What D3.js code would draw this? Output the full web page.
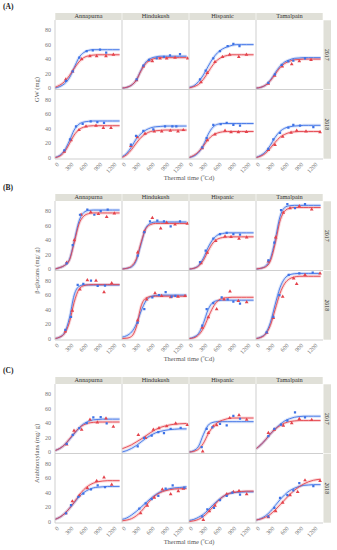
<!DOCTYPE html>
<html>
<head>
<meta charset="utf-8">
<script src="https://cdn.jsdelivr.net/npm/d3@7"></script>
<style>
body{margin:0;background:#fff}
svg{display:block}
</style>
</head>
<body>
<div id="chart"></div>
<script>
var W = 337, H = 550;
var varieties = ["Annapurna", "Hindukush", "Hispanic", "Tamalpain"];
var years = ["2017", "2018"];
var xTicks = [0, 300, 600, 900, 1200];
var yTicks = [0, 20, 40, 60, 80];
var fitX = [0, 100, 200, 300, 400, 500, 600, 700, 800, 900, 1000, 1100, 1200, 1350];

// ---- (A) GW (mg) ----  s1 = blue series, s2 = red series, one row per variety
var gw17Fit1 = [
  [0,2,6,14,28,42,49,52,53,53,53,53,53,53],
  [0,1,4,11,25,36,41,43,44,44,44,44,44,44],
  [1,3,9,18,30,41,49,54,57,59,60,60,60,60],
  [0,1,4,11,21,30,36,39,41,41.5,42,42,42,42]];
var gw17Fit2 = [
  [1,4,9,17,27,36,42,44.5,45.5,46,46,46,46,46],
  [0,1,4,11,24,34,39,41,42,42,42,42,42,42],
  [0,2,5,12,22,32,39,43,45,46,46,46,46,46],
  [0,1,4,10,19,28,34,37,39,39.5,40,40,40,40]];
var gw17Pts1 = [
  [[230,10],[370,23],[508,42],[662,51],[790,52],[940,53],[1070,49]],
  [[306,12],[446,31],[564,39],[725,41],[877,43],[1003,45],[1212,47]],
  [[230,12],[348,24],[508,41],[648,51],[808,58],[927,61],[1055,58]],
  [[258,7],[397,19],[537,32],[675,37],[780,38],[1024,41]]];
var gw17Pts2 = [
  [[225,12],[370,23],[557,40],[730,44],[870,44],[1065,44],[1220,46]],
  [[306,11],[446,30],[564,38],[634,37],[795,41],[933,41],[1108,42],[1372,41]],
  [[251,8],[383,21],[543,36],[700,43],[850,46],[1040,43],[1200,46]],
  [[258,6],[390,17],[550,30],[746,33],[905,37],[1150,39]]];
var gw18Fit1 = [
  [0,3,10,23,38,46,49,50,50.5,50.5,50.5,50.5,50.5,50.5],
  [1,6,15,26,33,38,41,42.5,43,43.5,43.5,43.5,43.5,43.5],
  [0,2,7,17,32,42,46,47,47,47,47,47,47,47],
  [0,3,8,17,28,36,40.5,42.5,43.5,44,44.5,44.5,44.5,44.5]];
var gw18Fit2 = [
  [0,2,8,19,31,38.5,42,43.5,44,44,44,44,44,44],
  [0,4,11,20,28,33,36,37,37.5,38,38,38,38,38],
  [0,3,8,16,25,31,34,35.5,36,36,36,36,36,36],
  [0,2,6,13,21,28,32,34.5,35.5,36,36,36,36,36]];
var gw18Pts1 = [
  [[195,10],[314,25],[439,43],[578,46.5],[746,50],[885,49],[1024,48]],
  [[185,18],[293,30],[446,37],[654,39],[899,43],[1052,43],[1135,43]],
  [[278,14],[369,27],[508,45],[662,46],[788,48],[927,45],[1066,44]],
  [[258,12],[362,25],[502,34],[676,41.5],[780,45],[920,44],[1198,42]]];
var gw18Pts2 = [
  [[195,8],[335,24],[502,38],[648,43],[857,44],[1010,41],[1170,41]],
  [[185,16],[320,28],[481,33],[675,36],[829,36],[1010,37],[1170,36],[1281,38]],
  [[278,13],[383,24],[543,32],[753,37],[878,35],[1031,35],[1200,35.5]],
  [[258,10.6],[397,17.5],[558,29],[732,34.5],[850,37],[1045,36],[1338,35]]];

// ---- (B) beta-glucans (mg/ g) ----
var bg17Fit1 = [
  [0,2,5,13,38,66,78,81,81.5,81.5,81.5,81.5,81.5,81.5],
  [0,1,3,12,35,57,63.5,65,65,65,65,65,65,65],
  [0,1,5,15,30,41,47,49,50,50,50,50,50,50],
  [0,1,4,14,40,72,85,87.5,88,88,88,88,88,88]];
var bg17Fit2 = [
  [0,2,5,12,36,62,73,76.5,77.5,77.5,77.5,77.5,77.5,77.5],
  [0,1,4,14,37,56,61.5,63,63,63,63,63,63,63],
  [0,1,4,12,25,36,41.5,43.5,44.3,44.5,44.5,44.5,44.5,44.5],
  [0,1,3,11,35,66,80,84,85,85,85,85,85,85]];
var bg17Pts1 = [
  [[244,8],[370,33],[522,75],[676,82],[822,75],[955,80],[1101,82]],
  [[328,18.5],[466,51],[585,66],[738,67],[877,66],[1017,59],[1212,66]],
  [[230,9.5],[348,25.6],[508,42],[648,48.3],[788,50],[927,48.3],[1066,47.4]],
  [[258,12],[383,36.5],[523,81.5],[655,89.6],[815,84],[1024,89.6]]];
var bg17Pts2 = [
  [[244,9],[404,40],[545,75],[746,78.5],[906,76],[1080,72],[1240,77]],
  [[328,23],[466,52],[634,70.6],[808,56],[933,64],[1108,61.6],[1365,62.6]],
  [[251,8],[383,22.7],[558,38.9],[753,45],[878,44.5],[1045,42],[1205,43.6]],
  [[258,10.4],[411,43.6],[571,78],[711,84],[905,87],[1164,82.5]]];
var bg18Fit1 = [
  [0,2,8,28,60,72,74,74,74,74,74,74,74,74],
  [2,4,9,20,38,52,58,59.5,60,60,60,60,60,60],
  [0,2,7,21,40,50,52.5,53,53,53,53,53,53,53],
  [0,2,7,22,47,70,83,88,89.5,90,90,90,90,90]];
var bg18Fit2 = [
  [0,2,7,22,50,68,73,74.3,74.5,74.5,74.5,74.5,74.5,74.5],
  [0,0.5,3,16,45,56,58,58.5,58.5,58.5,58.5,58.5,58.5,58.5],
  [0,1,5,14,29,43,52,55.5,56.5,57,57,57,57,57],
  [0,1.5,6,18,40,62,76,82.5,85,86,86,86,86,86]];
var bg18Pts1 = [
  [[216,12],[334,30],[474,74],[592,75.6],[752,80],[892,72.6],[1045,73]],
  [[328,22],[466,40.5],[634,57],[773,60],[912,64],[1038,58],[1115,59]],
  [[278,18],[369,40.5],[508,49],[683,57],[808,54],[927,51],[1066,48.4]],
  [[223,8.4],[362,30],[488,60],[683,88],[905,90],[1185,91]]];
var bg18Pts2 = [
  [[216,10],[362,38.5],[522,67.7],[676,80.5],[857,80],[1024,64],[1185,76.5]],
  [[328,25],[516,54],[690,62.7],[829,59],[1017,57],[1170,58],[1317,59]],
  [[278,15],[404,29.6],[578,40.5],[731,54],[857,65],[1031,52],[1205,50.4]],
  [[228,8],[362,28.6],[558,58],[787,83],[850,75.5],[1024,88],[1338,90]]];

// ---- (C) Arabinoxylans (mg/ g) ----
var ax17Fit1 = [
  [2,5,10,17,25,33,39,42.5,44.5,45,45.5,45.5,45.5,45.5],
  [0,2,5,9,14,19,23,26.5,28.5,30,31,31.5,32,32],
  [0,2,8,24,37,41,42,42,42,42,42,42,42,42],
  [4.5,10,17,25,32,38,43,46,48,49,49.5,49.5,49.5,49.5]];
var ax17Fit2 = [
  [2,5,10,18,26,33,37.5,40,41,41.5,41.5,41.5,41.5,41.5],
  [4.5,7,10,14,18,22.5,27,31,34,36,37.5,38.5,39,39.5],
  [0,1,4,12,25,35,41,44,46,47,47,47,47,47],
  [4.5,10,17,25,31.5,36.5,40,42,43,43.5,43.5,43.5,43.5,43.5]];
var ax17Pts1 = [
  [[244,11.4],[370,23.7],[508,33],[662,40],[801,48],[955,48.4],[1080,39.7]],
  [[328,8],[460,19.6],[620,22.8],[759,27.4],[877,26],[1017,32],[1226,33.3]],
  [[265,6.8],[369,32],[488,34],[648,38.8],[788,37],[927,50],[1066,46]],
  [[258,22],[383,32],[523,38],[655,43.4],[815,54.8],[1024,48]]];
var ax17Pts2 = [
  [[244,10.5],[397,29.7],[557,31],[731,44.7],[885,41],[1066,46.6],[1219,35]],
  [[341,23.7],[491,19.6],[655,31],[773,33],[933,35.6],[1122,39.7],[1365,37.4]],
  [[286,1],[404,26.5],[508,35.6],[578,37],[850,47],[1045,51],[1205,44.7]],
  [[258,26.5],[383,31],[571,36.5],[746,40],[905,45.7],[1164,44.3]]];
var ax18Fit1 = [
  [3,6,11,18,26,34,40,44,46.5,47.5,48,48.5,48.5,48.5],
  [3,5,9,14,20,26,32,37,41,43.5,45.5,46.5,47,48],
  [1.5,3,6,10,16,23,29,34,37.5,39.5,40.3,40.7,41,41],
  [2,4,8,14,22,30,37,42.5,46,48.5,50,50.5,51,51]];
var ax18Fit2 = [
  [3,6,11,18,26.5,36,44,49.5,53,55,56,56.5,56.5,56.5],
  [1,2,4,8,14,22,30,36,40,42.5,44,45,45.3,45.5],
  [0,1,3,7,13,20,28,34,38,40,41,41.5,42,42],
  [2,3.5,6,10,16,23,30,37,43,48,52,55,57,58.5]];
var ax18Pts1 = [
  [[230,11.4],[334,22.7],[488,34],[592,38.6],[752,44.5],[892,50],[1045,47.7]],
  [[362,18],[495,25],[620,31],[759,35.5],[912,45.5],[1059,50],[1303,46.8]],
  [[278,7],[383,17],[522,19],[648,29.5],[788,35.5],[906,40],[1066,37.3]],
  [[258,7],[383,19],[502,32.7],[655,36.4],[780,43],[905,53],[1198,49]]];
var ax18Pts2 = [
  [[230,11.4],[362,28],[508,36],[676,46],[871,56],[1024,61],[1185,51]],
  [[390,11.4],[529,21.8],[675,33],[843,44.5],[1017,37.7],[1176,42],[1282,45.5]],
  [[299,2.3],[425,14.5],[543,22],[788,37.7],[927,41],[1045,42.3],[1205,37.7]],
  [[258,6],[411,14.5],[558,26],[711,36.4],[871,41],[1024,57],[1338,56]]];

var blocks = [
  {tag: "(A)", title: "GW (mg)", top: 13,
   fits: [[gw17Fit1, gw17Fit2], [gw18Fit1, gw18Fit2]],
   pts: [[gw17Pts1, gw17Pts2], [gw18Pts1, gw18Pts2]]},
  {tag: "(B)", title: "\u03b2-glucans (mg/ g)", top: 194,
   fits: [[bg17Fit1, bg17Fit2], [bg18Fit1, bg18Fit2]],
   pts: [[bg17Pts1, bg17Pts2], [bg18Pts1, bg18Pts2]]},
  {tag: "(C)", title: "Arabinoxylans (mg/ g)", top: 377,
   fits: [[ax17Fit1, ax17Fit2], [ax18Fit1, ax18Fit2]],
   pts: [[ax17Pts1, ax17Pts2], [ax18Pts1, ax18Pts2]]}
];

var LEFT = 55, COL_W = 67, STRIP_H = 7, ROW_H = 69.5, RSTRIP_W = 7.5;
var BLUE = "#3d72e6", RED = "#e4434c";
var STRIP_FILL = "#e0e0d8", BORDER = "#c9c9c9";
var FONT = "'Liberation Serif', 'DejaVu Serif', serif";

var svg = d3.select("#chart").append("svg")
  .attr("width", W).attr("height", H)
  .style("font-family", FONT);

var clipN = 0;

blocks.forEach(function(b) {
  var g = svg.append("g");
  var panelTop = b.top + STRIP_H;
  var right = LEFT + COL_W * varieties.length;

  g.append("text").attr("x", 3).attr("y", b.top - 4)
    .attr("font-size", 7.5).attr("font-weight", "bold").attr("fill", "#222")
    .text(b.tag);

  // column strips
  varieties.forEach(function(v, ci) {
    var x0 = LEFT + ci * COL_W;
    g.append("rect").attr("x", x0 + 0.3).attr("y", b.top)
      .attr("width", COL_W - 0.6).attr("height", STRIP_H).attr("fill", STRIP_FILL);
    g.append("text").attr("x", x0 + COL_W / 2).attr("y", b.top + 5.4)
      .attr("text-anchor", "middle").attr("font-size", 6.3).attr("fill", "#333")
      .text(v);
  });

  years.forEach(function(yr, ri) {
    var rowTop = panelTop + ri * ROW_H;
    var y = d3.scaleLinear().domain([-2, 94]).range([rowTop + ROW_H, rowTop]);

    // row strip
    g.append("rect").attr("x", right + 0.5).attr("y", rowTop + 0.3)
      .attr("width", RSTRIP_W).attr("height", ROW_H - 0.6).attr("fill", STRIP_FILL);
    g.append("text")
      .attr("transform", "translate(" + (right + 0.5 + RSTRIP_W / 2 - 2) + "," + (rowTop + ROW_H / 2) + ") rotate(90)")
      .attr("text-anchor", "middle").attr("font-size", 5.8).attr("fill", "#333")
      .text(yr);

    // y tick labels
    g.selectAll(null).data(yTicks).enter().append("text")
      .attr("x", LEFT - 4).attr("y", d => y(d) + 2)
      .attr("text-anchor", "end").attr("font-size", 6).attr("fill", "#777")
      .text(d => d);

    varieties.forEach(function(v, ci) {
      var x0 = LEFT + ci * COL_W;
      var x = d3.scaleLinear().domain([0, 1400]).range([x0, x0 + COL_W]);
      var id = "clip" + (clipN++);
      svg.append("clipPath").attr("id", id).append("rect")
        .attr("x", x0).attr("y", rowTop).attr("width", COL_W).attr("height", ROW_H);

      var pg = g.append("g").attr("clip-path", "url(#" + id + ")");
      var line = d3.line().x(d => x(d[0])).y(d => y(d[1])).curve(d3.curveMonotoneX);

      [[b.fits[ri][0][ci], BLUE], [b.fits[ri][1][ci], RED]].forEach(function(s) {
        var pts = fitX.map((fx, k) => [fx, s[0][k]]);
        pg.append("path").attr("d", line(pts)).attr("fill", "none")
          .attr("stroke", s[1]).attr("stroke-opacity", 0.2).attr("stroke-width", 3);
      });
      [[b.fits[ri][0][ci], BLUE], [b.fits[ri][1][ci], RED]].forEach(function(s) {
        var pts = fitX.map((fx, k) => [fx, s[0][k]]);
        pg.append("path").attr("d", line(pts)).attr("fill", "none")
          .attr("stroke", s[1]).attr("stroke-width", 0.9);
      });

      pg.selectAll(null).data(b.pts[ri][1][ci]).enter().append("path")
        .attr("d", d3.symbol().type(d3.symbolTriangle).size(6))
        .attr("transform", d => "translate(" + x(d[0]) + "," + y(d[1]) + ")")
        .attr("fill", RED);
      pg.selectAll(null).data(b.pts[ri][0][ci]).enter().append("path")
        .attr("d", d3.symbol().type(d3.symbolSquare).size(5))
        .attr("transform", d => "translate(" + x(d[0]) + "," + y(d[1]) + ")")
        .attr("fill", BLUE);

      // panel border (left side and bottom)
      g.append("line").attr("x1", x0).attr("x2", x0).attr("y1", rowTop).attr("y2", rowTop + ROW_H)
        .attr("stroke", BORDER).attr("stroke-width", 0.9);
      g.append("line").attr("x1", x0).attr("x2", x0 + COL_W).attr("y1", rowTop + ROW_H).attr("y2", rowTop + ROW_H)
        .attr("stroke", BORDER).attr("stroke-width", 0.9);

      // x tick labels under the lower row
      if (ri === years.length - 1) {
        g.selectAll(null).data(xTicks).enter().append("text")
          .attr("transform", d => "translate(" + (x(d) + 1.5) + "," + (rowTop + ROW_H + 3) + ") rotate(-45)")
          .attr("text-anchor", "end").attr("font-size", 6).attr("fill", "#777")
          .attr("dy", "0.7em")
          .text(d => d);
      }
    });
  });

  var bottom = panelTop + ROW_H * years.length;
  g.append("text").attr("x", (LEFT + right) / 2).attr("y", bottom + 21)
    .attr("text-anchor", "middle").attr("font-size", 6.5).attr("fill", "#555")
    .text("Thermal time (\u00baCd)");

  g.append("text")
    .attr("transform", "translate(39," + (panelTop + ROW_H) + ") rotate(-90)")
    .attr("text-anchor", "middle").attr("font-size", 6.5).attr("fill", "#555")
    .text(b.title);
});
</script>
</body>
</html>
